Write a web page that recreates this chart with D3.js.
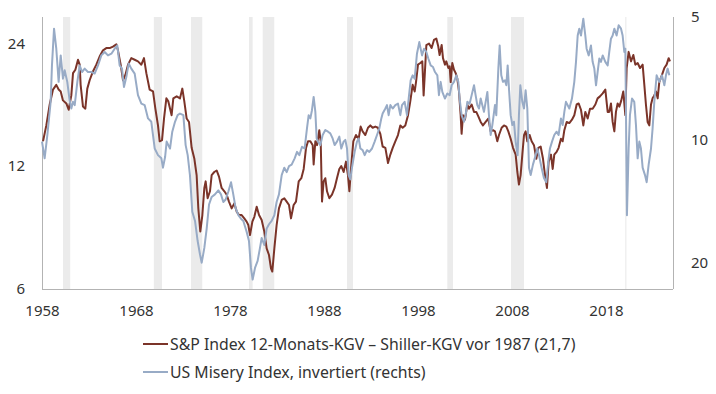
<!DOCTYPE html>
<html>
<head>
<meta charset="utf-8">
<script src="https://cdn.jsdelivr.net/npm/d3@7/dist/d3.min.js"></script>
<style>
  body { margin: 0; background: #fff; }
  svg text { font-family: "Noto Sans", sans-serif; font-size: 15px; fill: #333; }
  svg .legend-item text { font-size: 15.8px; }
</style>
</head>
<body>
<div id="chart"></div>
<script>
// S&P 12-month P/E (left axis), [year, value]
const peData = [
  [1958.11, 13.8], [1958.46, 15.1], [1958.82, 17.0], [1959.17, 18.5], [1959.52, 19.0], [1959.77, 18.5],
  [1959.99, 18.3], [1960.23, 17.4], [1960.59, 17.1], [1960.84, 16.5], [1961.12, 17.9], [1961.30, 20.3],
  [1961.55, 20.7], [1961.83, 21.9], [1962.01, 21.3], [1962.11, 19.0], [1962.36, 16.8], [1962.61, 16.6],
  [1962.82, 18.6], [1963.07, 19.5], [1963.42, 20.5], [1963.78, 21.3], [1964.13, 22.3], [1964.49, 23.1],
  [1964.84, 23.4], [1965.20, 23.4], [1965.55, 23.6], [1965.91, 23.9], [1966.08, 23.1], [1966.37, 21.3],
  [1966.62, 19.5], [1966.87, 20.1], [1967.15, 21.3], [1967.50, 22.1], [1967.86, 21.9], [1968.21, 21.7],
  [1968.57, 21.3], [1968.85, 22.1], [1969.10, 20.3], [1969.45, 18.5], [1969.81, 18.3], [1970.06, 16.6],
  [1970.34, 15.1], [1970.52, 13.8], [1970.77, 13.9], [1970.98, 15.7], [1971.23, 17.6], [1971.44, 17.3],
  [1971.79, 16.0], [1971.97, 17.6], [1972.33, 17.8], [1972.68, 17.6], [1972.93, 18.6], [1973.14, 17.3],
  [1973.39, 15.7], [1973.64, 15.4], [1973.92, 13.3], [1974.21, 12.5], [1974.45, 11.4], [1974.63, 9.44],
  [1974.84, 8.28], [1975.06, 9.09], [1975.27, 10.6], [1975.41, 11.0], [1975.62, 10.0], [1975.87, 10.4],
  [1976.05, 11.4], [1976.33, 11.6], [1976.58, 11.7], [1976.83, 11.3], [1977.11, 10.6], [1977.40, 10.4],
  [1977.65, 10.2], [1977.89, 9.81], [1978.18, 9.44], [1978.46, 9.71], [1978.71, 9.27], [1978.96, 9.09],
  [1979.24, 9.09], [1979.52, 8.92], [1979.77, 8.76], [1979.95, 8.59], [1980.13, 8.12], [1980.38, 8.76],
  [1980.59, 9.00], [1980.84, 9.53], [1981.09, 9.09], [1981.37, 8.84], [1981.65, 8.28], [1981.90, 7.53],
  [1982.15, 7.25], [1982.36, 6.72], [1982.50, 6.60], [1982.72, 7.53], [1982.96, 8.59], [1983.21, 9.44],
  [1983.50, 9.90], [1983.78, 9.99], [1984.03, 9.81], [1984.28, 9.62], [1984.49, 8.92], [1984.77, 9.62],
  [1985.02, 9.81], [1985.31, 11.0], [1985.59, 11.2], [1985.84, 11.8], [1986.09, 13.3], [1986.30, 13.8],
  [1986.55, 13.8], [1986.80, 13.5], [1986.90, 12.1], [1987.08, 13.8], [1987.26, 13.5], [1987.50, 14.7],
  [1987.65, 13.8], [1987.79, 9.81], [1987.96, 11.0], [1988.14, 11.2], [1988.32, 10.4], [1988.57, 10.0],
  [1988.85, 10.2], [1989.13, 10.6], [1989.38, 11.2], [1989.63, 11.8], [1989.84, 12.0], [1990.09, 11.6],
  [1990.34, 12.3], [1990.55, 11.4], [1990.70, 10.4], [1990.91, 12.1], [1991.12, 13.8], [1991.40, 14.3],
  [1991.69, 14.0], [1991.90, 15.0], [1992.11, 14.6], [1992.40, 14.3], [1992.68, 14.9], [1992.93, 15.1],
  [1993.18, 14.9], [1993.46, 15.0], [1993.74, 14.9], [1993.99, 14.4], [1994.24, 13.4], [1994.53, 13.3],
  [1994.81, 12.2], [1995.06, 12.8], [1995.31, 13.3], [1995.59, 13.8], [1995.87, 14.3], [1996.12, 15.1],
  [1996.37, 14.9], [1996.65, 15.1], [1996.94, 16.0], [1997.18, 17.3], [1997.43, 19.0], [1997.65, 18.3],
  [1997.79, 19.3], [1998.00, 21.3], [1998.25, 21.5], [1998.46, 21.7], [1998.60, 17.9], [1998.74, 20.5],
  [1998.89, 23.8], [1999.17, 24.0], [1999.45, 23.4], [1999.70, 24.5], [1999.95, 24.7], [2000.16, 23.6],
  [2000.30, 22.5], [2000.52, 23.8], [2000.66, 22.1], [2000.87, 21.3], [2001.01, 21.7], [2001.23, 20.9],
  [2001.37, 21.1], [2001.48, 19.3], [2001.65, 21.5], [2001.83, 20.7], [2002.01, 20.3], [2002.18, 19.7],
  [2002.36, 18.3], [2002.54, 16.0], [2002.64, 14.4], [2002.79, 16.0], [2003.00, 15.6], [2003.25, 17.0],
  [2003.42, 16.6], [2003.71, 17.0], [2003.96, 16.3], [2004.20, 16.3], [2004.42, 15.9], [2004.67, 15.4],
  [2004.91, 15.1], [2005.20, 15.4], [2005.48, 15.7], [2005.73, 14.6], [2005.98, 14.7], [2006.19, 14.6],
  [2006.44, 13.8], [2006.62, 14.3], [2006.90, 14.9], [2007.15, 15.1], [2007.40, 15.0], [2007.61, 14.6],
  [2007.86, 14.0], [2008.11, 13.3], [2008.39, 12.8], [2008.57, 11.6], [2008.74, 10.8], [2008.92, 11.4],
  [2009.10, 12.8], [2009.28, 14.3], [2009.45, 14.6], [2009.63, 13.8], [2009.88, 14.3], [2010.09, 13.8],
  [2010.34, 13.5], [2010.59, 12.5], [2010.80, 13.3], [2011.05, 13.4], [2011.30, 12.5], [2011.51, 11.4],
  [2011.72, 10.6], [2011.90, 12.3], [2012.15, 12.8], [2012.33, 11.8], [2012.50, 12.8], [2012.75, 13.0],
  [2012.96, 13.3], [2013.21, 14.0], [2013.39, 13.8], [2013.57, 14.7], [2013.82, 15.4], [2014.10, 15.3],
  [2014.38, 15.6], [2014.63, 16.0], [2014.88, 17.0], [2015.09, 17.1], [2015.34, 16.5], [2015.59, 15.1],
  [2015.80, 16.3], [2016.05, 15.7], [2016.30, 16.6], [2016.58, 16.6], [2016.87, 17.0], [2017.11, 17.6],
  [2017.36, 17.8], [2017.65, 18.1], [2017.93, 18.5], [2018.18, 16.3], [2018.35, 16.3], [2018.53, 17.1],
  [2018.71, 15.4], [2018.89, 14.6], [2019.06, 16.3], [2019.24, 17.1], [2019.42, 16.8], [2019.63, 17.4],
  [2019.84, 18.3], [2020.06, 16.0], [2020.20, 20.9], [2020.41, 22.9], [2020.66, 21.7], [2020.91, 22.5],
  [2021.12, 21.3], [2021.37, 21.5], [2021.62, 20.9], [2021.90, 21.3], [2022.08, 19.0], [2022.25, 17.0],
  [2022.43, 15.4], [2022.61, 15.1], [2022.79, 17.0], [2022.96, 17.6], [2023.14, 17.9], [2023.32, 18.3],
  [2023.50, 17.6], [2023.67, 19.3], [2023.96, 20.1], [2024.21, 20.9], [2024.45, 21.3], [2024.67, 22.1],
  [2024.81, 21.7]
];

// US misery index (right axis, inverted), [year, value]
const miseryData = [
  [1958.00, 10.1], [1958.28, 11.1], [1958.57, 9.73], [1958.92, 8.07], [1959.06, 6.57], [1959.28, 5.34],
  [1959.52, 5.98], [1959.77, 7.21], [1959.99, 6.21], [1960.23, 7.08], [1960.41, 6.75], [1960.69, 7.21],
  [1960.94, 8.00], [1961.12, 8.38], [1961.30, 8.07], [1961.48, 8.22], [1961.76, 7.21], [1962.01, 6.57],
  [1962.26, 6.82], [1962.54, 6.69], [1962.89, 6.82], [1963.25, 6.82], [1963.60, 6.88], [1963.96, 6.57],
  [1964.31, 6.21], [1964.67, 6.09], [1965.02, 6.21], [1965.38, 6.15], [1965.73, 5.98], [1966.01, 5.87],
  [1966.26, 6.57], [1966.51, 6.69], [1966.72, 7.42], [1966.97, 7.02], [1967.22, 6.50], [1967.50, 6.69],
  [1967.86, 6.88], [1968.21, 7.77], [1968.57, 8.15], [1968.92, 8.22], [1969.28, 8.86], [1969.63, 9.03],
  [1969.99, 10.5], [1970.34, 10.9], [1970.70, 11.1], [1970.87, 11.7], [1971.10, 11.0], [1971.26, 10.1],
  [1971.62, 10.5], [1971.86, 9.55], [1972.15, 9.03], [1972.43, 8.70], [1972.68, 8.62], [1973.04, 8.70],
  [1973.28, 10.3], [1973.50, 10.9], [1973.74, 12.2], [1973.99, 15.0], [1974.28, 15.8], [1974.56, 17.7],
  [1974.81, 19.1], [1974.99, 20.0], [1975.27, 18.4], [1975.52, 16.5], [1975.77, 14.4], [1976.05, 13.8],
  [1976.40, 13.6], [1976.76, 13.3], [1977.04, 13.6], [1977.29, 14.2], [1977.54, 14.0], [1977.82, 13.4],
  [1978.11, 12.7], [1978.35, 13.6], [1978.60, 14.7], [1978.89, 15.3], [1979.17, 15.6], [1979.42, 15.8],
  [1979.77, 16.8], [1980.02, 17.7], [1980.23, 20.6], [1980.41, 22.0], [1980.66, 20.6], [1980.94, 19.8],
  [1981.19, 18.4], [1981.37, 17.4], [1981.65, 18.1], [1981.90, 16.5], [1982.15, 16.1], [1982.43, 15.8],
  [1982.72, 15.3], [1982.96, 14.2], [1983.21, 13.6], [1983.50, 12.2], [1983.78, 11.7], [1984.03, 12.0],
  [1984.28, 11.6], [1984.56, 11.5], [1984.88, 11.1], [1985.13, 10.7], [1985.38, 10.9], [1985.66, 10.4],
  [1985.94, 10.5], [1986.19, 9.37], [1986.37, 8.70], [1986.55, 8.86], [1986.72, 8.46], [1986.90, 7.85],
  [1987.08, 8.54], [1987.22, 9.92], [1987.36, 10.1], [1987.61, 10.3], [1987.86, 9.73], [1988.14, 9.46],
  [1988.43, 9.55], [1988.67, 9.64], [1988.92, 9.92], [1989.13, 10.3], [1989.38, 10.1], [1989.63, 9.82],
  [1989.84, 10.5], [1990.09, 10.1], [1990.27, 10.0], [1990.45, 10.5], [1990.62, 12.2], [1990.80, 12.5],
  [1990.98, 11.7], [1991.26, 10.7], [1991.51, 10.1], [1991.69, 9.92], [1991.87, 10.5], [1992.11, 10.6],
  [1992.33, 10.9], [1992.57, 10.6], [1992.82, 10.7], [1993.11, 10.5], [1993.39, 10.1], [1993.64, 9.73],
  [1993.89, 9.37], [1994.10, 8.86], [1994.24, 8.62], [1994.53, 8.38], [1994.70, 8.22], [1994.88, 8.70],
  [1995.06, 8.22], [1995.31, 8.38], [1995.59, 8.22], [1995.87, 8.15], [1996.12, 8.70], [1996.30, 8.22],
  [1996.58, 8.07], [1996.83, 8.70], [1997.01, 7.92], [1997.22, 7.15], [1997.43, 6.95], [1997.65, 7.08],
  [1997.89, 6.15], [1998.14, 5.76], [1998.43, 6.21], [1998.64, 5.98], [1998.89, 6.09], [1999.10, 6.32],
  [1999.35, 6.57], [1999.60, 6.63], [1999.81, 6.82], [2000.06, 6.95], [2000.23, 7.77], [2000.41, 7.21],
  [2000.59, 7.63], [2000.87, 7.92], [2001.12, 7.70], [2001.37, 7.77], [2001.58, 7.35], [2001.83, 7.21],
  [2002.08, 6.95], [2002.29, 7.21], [2002.43, 7.92], [2002.64, 8.70], [2002.89, 9.03], [2003.07, 8.70],
  [2003.25, 8.07], [2003.50, 8.15], [2003.71, 7.77], [2003.96, 7.35], [2004.13, 7.77], [2004.31, 8.22],
  [2004.49, 8.38], [2004.67, 7.92], [2004.84, 8.22], [2005.02, 8.54], [2005.20, 8.07], [2005.38, 7.63],
  [2005.55, 8.70], [2005.73, 9.73], [2005.91, 9.20], [2006.19, 8.22], [2006.33, 8.70], [2006.55, 6.69],
  [2006.69, 5.87], [2006.86, 6.95], [2007.04, 7.21], [2007.26, 7.15], [2007.40, 7.35], [2007.54, 6.57],
  [2007.68, 7.49], [2007.86, 8.70], [2008.04, 9.20], [2008.21, 9.03], [2008.39, 10.1], [2008.60, 10.9],
  [2008.74, 8.70], [2008.89, 7.35], [2009.10, 8.07], [2009.28, 8.38], [2009.45, 7.56], [2009.63, 8.38],
  [2009.81, 11.7], [2009.99, 12.2], [2010.23, 11.5], [2010.52, 10.9], [2010.69, 10.5], [2010.87, 10.9],
  [2011.15, 11.7], [2011.40, 12.4], [2011.65, 12.7], [2011.86, 11.3], [2012.04, 10.5], [2012.26, 10.1],
  [2012.50, 9.73], [2012.75, 9.55], [2012.96, 9.73], [2013.21, 8.86], [2013.39, 9.20], [2013.57, 8.54],
  [2013.74, 8.07], [2013.92, 8.22], [2014.10, 8.38], [2014.38, 7.92], [2014.63, 7.21], [2014.81, 6.44],
  [2014.99, 5.55], [2015.16, 5.34], [2015.34, 5.55], [2015.59, 5.05], [2015.80, 5.55], [2015.94, 5.98],
  [2016.16, 6.21], [2016.40, 5.87], [2016.58, 6.44], [2016.76, 6.69], [2016.94, 7.35], [2017.11, 6.82],
  [2017.29, 6.32], [2017.47, 6.44], [2017.65, 6.21], [2017.93, 6.44], [2018.18, 6.57], [2018.35, 6.09],
  [2018.53, 5.65], [2018.71, 5.55], [2018.89, 5.34], [2019.13, 5.55], [2019.35, 5.24], [2019.60, 5.34],
  [2019.77, 5.55], [2019.95, 6.09], [2020.06, 5.98], [2020.13, 8.70], [2020.23, 15.3], [2020.41, 10.5],
  [2020.55, 8.70], [2020.77, 7.92], [2021.01, 8.07], [2021.19, 9.20], [2021.37, 11.1], [2021.55, 10.1],
  [2021.72, 10.5], [2021.90, 11.7], [2022.15, 12.2], [2022.33, 12.7], [2022.54, 11.5], [2022.79, 10.5],
  [2022.96, 9.37], [2023.14, 8.07], [2023.39, 6.95], [2023.67, 7.21], [2023.96, 6.95], [2024.21, 7.35],
  [2024.38, 6.95], [2024.56, 6.69], [2024.74, 6.95]
];

// US recessions, [start, end] in years
const recessions = [
  [1960.23, 1961.0], [1969.9, 1970.77], [1973.85, 1975.05], [1980.02, 1980.41], [1981.48, 1982.71],
  [1990.45, 1991.09], [2001.12, 2001.72], [2007.9, 2009.28], [2020.05, 2020.17]
];

const xTicks = [1958, 1968, 1978, 1988, 1998, 2008, 2018];
const leftTicks = [6, 12, 24];
const rightTicks = [5, 10, 20];
const seriesLabels = [
  'S&P Index 12-Monats-KGV – Shiller-KGV vor 1987 (21,7)',
  'US Misery Index, invertiert (rechts)'
];
const seriesColors = ['#7b3429', '#98abc6'];

class DualAxisChart {

  constructor(_config) {
    this.config = {
      parentElement: _config.parentElement,
      containerWidth: 716,
      containerHeight: 394,
      margin: { top: 17, right: 43, bottom: 105, left: 42 }
    };
    this.initVis();
  }

  initVis() {
    const vis = this;

    vis.width = vis.config.containerWidth - vis.config.margin.left - vis.config.margin.right;
    vis.height = vis.config.containerHeight - vis.config.margin.top - vis.config.margin.bottom;

    vis.svg = d3.select(vis.config.parentElement).append('svg')
      .attr('width', vis.config.containerWidth)
      .attr('height', vis.config.containerHeight);

    vis.chartArea = vis.svg.append('g')
      .attr('transform', `translate(${vis.config.margin.left},${vis.config.margin.top})`);

    vis.xScale = d3.scaleLinear()
      .domain([1958, 2025.13])
      .range([0, vis.width]);

    vis.yLeft = d3.scaleLog()
      .domain([5.98, 27.9])
      .range([vis.height, 0]);

    // inverted: low misery at the top
    vis.yRight = d3.scaleLog()
      .domain([5, 23.2])
      .range([0, vis.height]);

    vis.renderVis();
  }

  renderVis() {
    const vis = this;

    vis.chartArea.selectAll('.recession')
      .data(recessions)
      .join('rect')
      .attr('class', 'recession')
      .attr('x', d => vis.xScale(d[0]))
      .attr('y', 0)
      .attr('width', d => Math.max(1, vis.xScale(d[1]) - vis.xScale(d[0])))
      .attr('height', vis.height)
      .attr('fill', '#ebebeb');

    // frame: left, bottom, right
    const frame = [
      [0, 0, 0, vis.height],
      [0, vis.height, vis.width, vis.height],
      [vis.width, 0, vis.width, vis.height]
    ];
    vis.chartArea.selectAll('.frame')
      .data(frame)
      .join('line')
      .attr('class', 'frame')
      .attr('x1', d => d[0]).attr('y1', d => d[1])
      .attr('x2', d => d[2]).attr('y2', d => d[3])
      .attr('stroke', '#b3b3b3')
      .attr('stroke-width', 1)
      .attr('shape-rendering', 'crispEdges');

    const peLine = d3.line()
      .x(d => vis.xScale(d[0]))
      .y(d => vis.yLeft(d[1]));

    const miseryLine = d3.line()
      .x(d => vis.xScale(d[0]))
      .y(d => vis.yRight(d[1]));

    vis.chartArea.append('path')
      .datum(peData)
      .attr('fill', 'none')
      .attr('stroke', seriesColors[0])
      .attr('stroke-width', 2)
      .attr('stroke-linejoin', 'round')
      .attr('d', peLine);

    vis.chartArea.append('path')
      .datum(miseryData)
      .attr('fill', 'none')
      .attr('stroke', seriesColors[1])
      .attr('stroke-width', 2)
      .attr('stroke-linejoin', 'round')
      .attr('d', miseryLine);

    const xAxis = vis.chartArea.append('g')
      .attr('transform', `translate(0,${vis.height})`)
      .call(d3.axisBottom(vis.xScale).tickValues(xTicks).tickFormat(d3.format('d')).tickSize(0).tickPadding(16));

    const leftAxis = vis.chartArea.append('g')
      .call(d3.axisLeft(vis.yLeft).tickValues(leftTicks).tickFormat(d3.format('d')).tickSize(0).tickPadding(17));

    const rightAxis = vis.chartArea.append('g')
      .attr('transform', `translate(${vis.width},0)`)
      .call(d3.axisRight(vis.yRight).tickValues(rightTicks).tickFormat(d3.format('d')).tickSize(0).tickPadding(18));

    [xAxis, leftAxis, rightAxis].forEach(a => a.select('.domain').remove());

    const legend = vis.svg.selectAll('.legend-item')
      .data(seriesLabels)
      .join('g')
      .attr('class', 'legend-item')
      .attr('transform', (d, i) => `translate(143,${344 + i * 28})`);

    legend.append('line')
      .attr('x1', 0)
      .attr('x2', 25)
      .attr('stroke', (d, i) => seriesColors[i])
      .attr('stroke-width', 2);

    legend.append('text')
      .attr('x', 27)
      .attr('dy', '0.35em')
      .text(d => d);
  }
}

const chart = new DualAxisChart({ parentElement: '#chart' });
</script>
</body>
</html>
